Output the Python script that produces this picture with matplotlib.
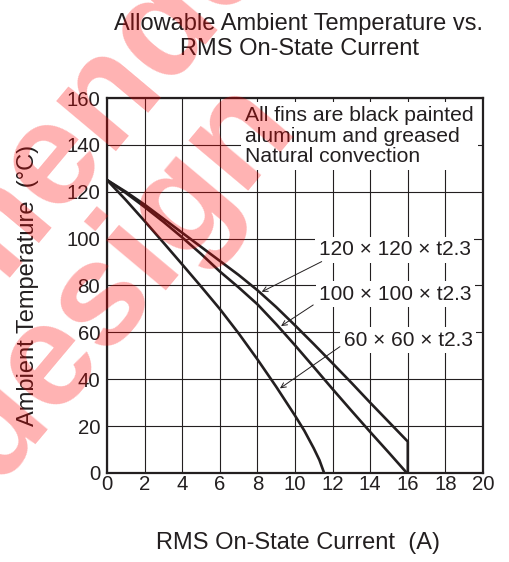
import matplotlib
matplotlib.use('Agg')
import matplotlib.pyplot as plt
import numpy as np

plt.rcParams['font.family'] = ['Liberation Sans', 'DejaVu Sans']

# values
cur_120 = [0, 1, 2, 3, 4, 5, 6, 7, 8, 9, 10, 11, 12, 13, 14, 15, 16, 16]
temp_120 = [125, 120, 114.5, 108.5, 102.5, 96.5, 90.5, 84.5, 78, 70.8, 63, 55, 46.8, 38.5, 30, 21.7, 13.4, 0]
cur_100 = [0, 1, 2, 3, 4, 5, 6, 7, 8, 9, 10, 11, 12, 13, 14, 15, 15.95]
temp_100 = [125, 119.5, 113.5, 107.2, 100.5, 93.5, 86, 79.2, 72, 63.5, 54.5, 45.2, 35.8, 26.6, 17.5, 8.6, 0]
cur_60 = [0, 1, 2, 3, 4, 5, 6, 7, 8, 9, 10, 10.5, 11, 11.3, 11.55]
temp_60 = [125, 116.5, 107.5, 98.3, 89, 79.6, 70, 59.6, 48.5, 36.8, 24.5, 18, 10.5, 5.5, 0]

labels = ['120 × 120 × t2.3', '100 × 100 × t2.3', '60 × 60 × t2.3']
xticks = np.arange(0, 21, 2)
yticks = np.arange(0, 161, 20)

ink = '#231f20'

fig = plt.figure(figsize=(5.09, 5.62), dpi=100)
ax = fig.add_axes([0.2102, 0.1584, 0.7387, 0.6672])

ax.set_xlim(0, 20)
ax.set_ylim(0, 160)
ax.set_xticks(xticks)
ax.set_yticks(yticks)
ax.grid(True, color=ink, lw=0.8)
ax.set_axisbelow(True)
ax.tick_params(length=0, labelsize=14.7, colors=ink)
ax.tick_params(axis='x', pad=1.5)
ax.tick_params(axis='y', pad=5)
for s in ax.spines.values():
    s.set_linewidth(1.6)
    s.set_color(ink)

ax.plot(cur_120, temp_120, color=ink, lw=1.9, zorder=3)
ax.plot(cur_100, temp_100, color=ink, lw=1.9, zorder=3)
ax.plot(cur_60, temp_60, color=ink, lw=1.9, zorder=3)

# note box
ax.text(7.34, 156.5, 'All fins are black painted\naluminum and greased\nNatural convection',
        ha='left', va='top', fontsize=15.2, color=ink, linespacing=1.1, zorder=4,
        bbox=dict(facecolor='white', edgecolor='none', pad=3))

# curve labels with leader lines
lab_pos = [(19.36, 95.3), (19.41, 76.2), (19.46, 56.7)]
lead_from = [(11.42, 90.2), (10.97, 71.7), (12.39, 53.9)]
lead_to = [(8.23, 77.3), (9.26, 62.7), (9.20, 36.1)]
for lab, p, a, b in zip(labels, lab_pos, lead_from, lead_to):
    ax.text(p[0], p[1], lab, ha='right', va='center', fontsize=15, color=ink, zorder=4,
            bbox=dict(facecolor='white', edgecolor='none', pad=2.5))
    ax.annotate('', xy=b, xytext=a,
                arrowprops=dict(arrowstyle='->', lw=0.7, color=ink,
                                shrinkA=0, shrinkB=0, mutation_scale=9), zorder=5)

ax.set_xlabel('RMS On-State Current  (A)', fontsize=17, color=ink)
ax.set_ylabel('Ambient Temperature  (°C)', fontsize=17, color=ink)
ax.xaxis.set_label_coords(0.507, -0.158)
ax.yaxis.set_label_coords(-0.18, 0.5)

fig.text(299 / 509, 1 - 13 / 562, 'Allowable Ambient Temperature vs.\nRMS On-State Current',
         ha='center', va='top', fontsize=17, color=ink, linespacing=1.2)

# watermark
wm = dict(fontsize=105, fontweight='bold', color='red', alpha=0.3,
          rotation=50, rotation_mode='anchor', ha='right', va='baseline')
fig.text(334 / 509, 1 + 109 / 562, 'Not recommended', **wm)
fig.text(300 / 509, 1 - 130 / 562, 'for new design', **wm)

fig.savefig('out.png', dpi=100)
